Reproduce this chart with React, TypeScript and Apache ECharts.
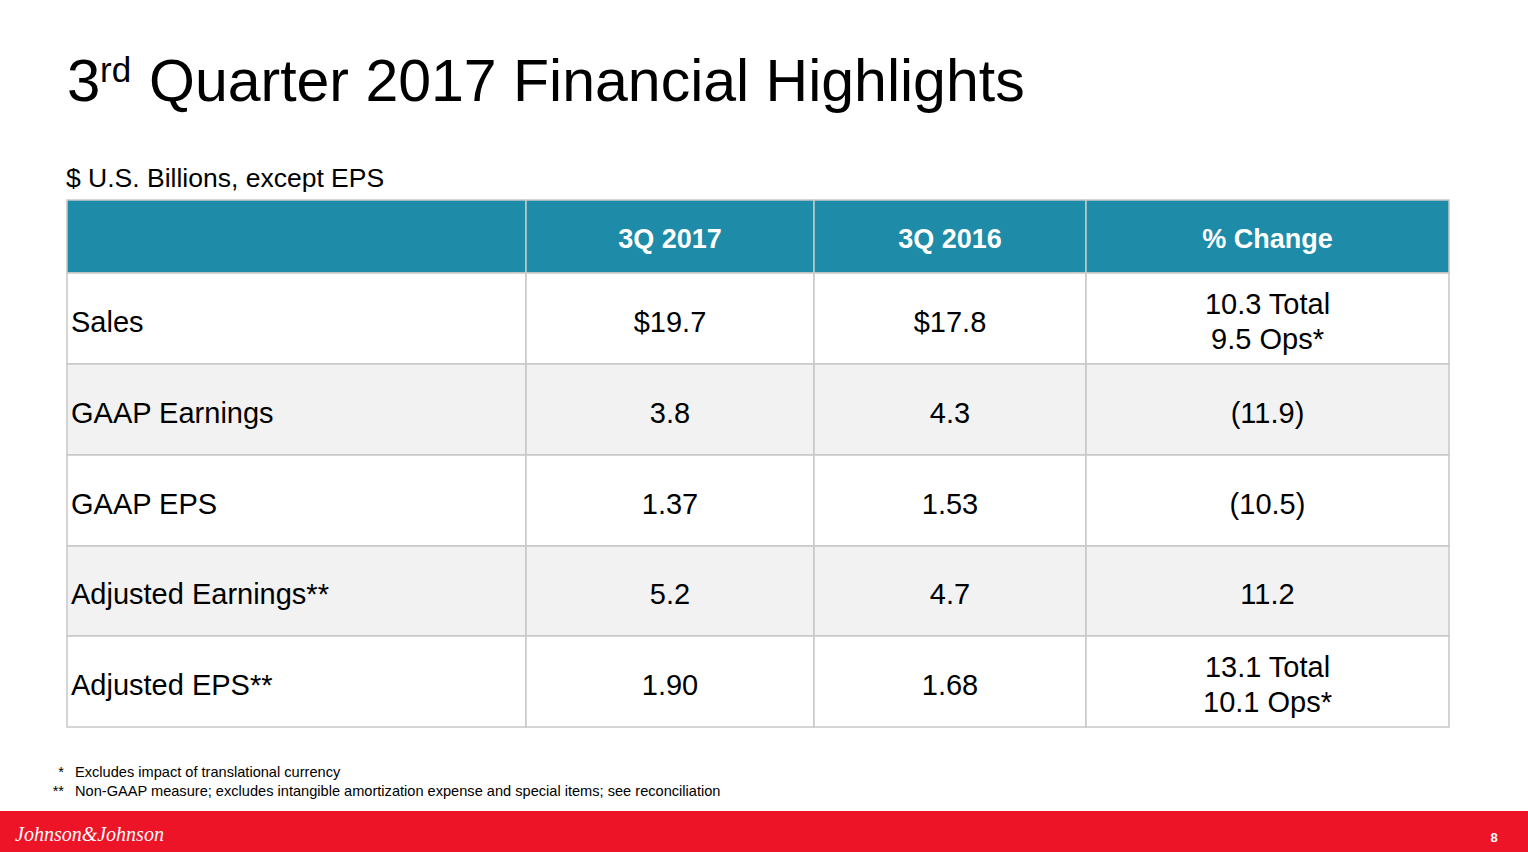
import React, { useEffect, useRef } from "react";
import * as echarts from "echarts";

// ---- data ----
const headers = ["", "3Q 2017", "3Q 2016", "% Change"];
const metrics = ["Sales", "GAAP Earnings", "GAAP EPS", "Adjusted Earnings**", "Adjusted EPS**"];
const q3_2017 = ["$19.7", "3.8", "1.37", "5.2", "1.90"];
const q3_2016 = ["$17.8", "4.3", "1.53", "4.7", "1.68"];
const pctChange = ["10.3 Total\n9.5 Ops*", "(11.9)", "(10.5)", "11.2", "13.1 Total\n10.1 Ops*"];
const footnotes = [
  { mark: "*", text: "Excludes impact of translational currency" },
  { mark: "**", text: "Non-GAAP measure; excludes intangible amortization expense and special items; see reconciliation" },
];

// ---- layout ----
const COL_EDGES = [0, 459, 747, 1019, 1382];
const ROW_EDGES = [0, 73, 164, 255, 346, 436, 527];
const FONT = "'Liberation Sans', Arial, Helvetica, sans-serif";
const TEAL = "#1e8ba8";
const RED = "#ee1428";
const BORDER = "#c8c8c8";

type Cell = { value: [number, number]; text: string };
const cells: Cell[] = [];
headers.forEach((h, c) => cells.push({ value: [c, 0], text: h }));
metrics.forEach((m, i) => {
  [m, q3_2017[i], q3_2016[i], pctChange[i]].forEach((t, c) => cells.push({ value: [c, i + 1], text: t }));
});

export default function App() {
  const ref = useRef<HTMLDivElement>(null);
  useEffect(() => {
    if (!ref.current) return;
    const chart = echarts.init(ref.current, null, { renderer: "svg" });
    chart.setOption({
      animation: false,
      backgroundColor: "#ffffff",
      grid: { left: 67, top: 200, right: 79, bottom: 125 },
      xAxis: { type: "value", min: 0, max: COL_EDGES[COL_EDGES.length - 1], show: false },
      yAxis: { type: "value", min: 0, max: ROW_EDGES[ROW_EDGES.length - 1], inverse: true, show: false },
      series: [
        {
          type: "custom",
          silent: true,
          clip: false,
          data: cells.map((c) => c.value),
          renderItem: (params: any, api: any) => {
            const col = api.value(0);
            const row = api.value(1);
            const cell = cells[params.dataIndex];
            const p0 = api.coord([COL_EDGES[col], ROW_EDGES[row]]);
            const p1 = api.coord([COL_EDGES[col + 1], ROW_EDGES[row + 1]]);
            const isHeader = row === 0;
            const fill = isHeader ? TEAL : row % 2 === 0 ? "#f2f2f2" : "#ffffff";
            const left = col === 0;
            return {
              type: "group",
              children: [
                {
                  type: "rect",
                  shape: { x: p0[0], y: p0[1], width: p1[0] - p0[0], height: p1[1] - p0[1] },
                  style: { fill, stroke: BORDER, lineWidth: 1.5 },
                },
                {
                  type: "text",
                  style: {
                    text: cell.text,
                    x: left ? p0[0] + 4 : (p0[0] + p1[0]) / 2,
                    y: (p0[1] + p1[1]) / 2 + (isHeader ? 2 : 3),
                    fill: isHeader ? "#ffffff" : "#000000",
                    fontFamily: FONT,
                    fontSize: isHeader ? 27 : 29,
                    fontWeight: isHeader ? "bold" : "normal",
                    lineHeight: 35,
                    align: left ? "left" : "center",
                    verticalAlign: "middle",
                  },
                },
              ],
            };
          },
        },
      ],
      graphic: [
        { type: "text", left: 67, top: 50, style: { text: "3", fontFamily: FONT, fontSize: 60, fill: "#000" } },
        { type: "text", left: 100, top: 52, style: { text: "rd", fontFamily: FONT, fontSize: 35, fill: "#000" } },
        { type: "text", left: 149, top: 51, style: { text: "Quarter 2017 Financial Highlights", fontFamily: FONT, fontSize: 59, fill: "#000" } },
        { type: "text", left: 66, top: 164, style: { text: "$ U.S. Billions, except EPS", fontFamily: FONT, fontSize: 26.5, fill: "#000" } },
        ...footnotes.flatMap((f, i) => [
          { type: "text", x: 64, y: 772 + i * 19, style: { text: f.mark, fontFamily: FONT, fontSize: 14.6, fill: "#000", align: "right", verticalAlign: "middle" } },
          { type: "text", x: 75, y: 772 + i * 19, style: { text: f.text, fontFamily: FONT, fontSize: 14.6, fill: "#000", align: "left", verticalAlign: "middle" } },
        ]),
        { type: "rect", shape: { x: 0, y: 811, width: 1528, height: 41 }, style: { fill: RED } },
        { type: "text", x: 15, y: 834, style: { text: "Johnson&Johnson", fontFamily: "'Liberation Serif', serif", fontStyle: "italic", fontSize: 20, fill: "#fff", verticalAlign: "middle" } },
        { type: "text", x: 1494, y: 837, style: { text: "8", fontFamily: FONT, fontSize: 13, fontWeight: "bold", fill: "#fff", align: "center", verticalAlign: "middle" } },
      ],
    });
    return () => chart.dispose();
  }, []);
  return <div ref={ref} style={{ position: "fixed", left: 0, top: 0, width: 1528, height: 852 }} />;
}
